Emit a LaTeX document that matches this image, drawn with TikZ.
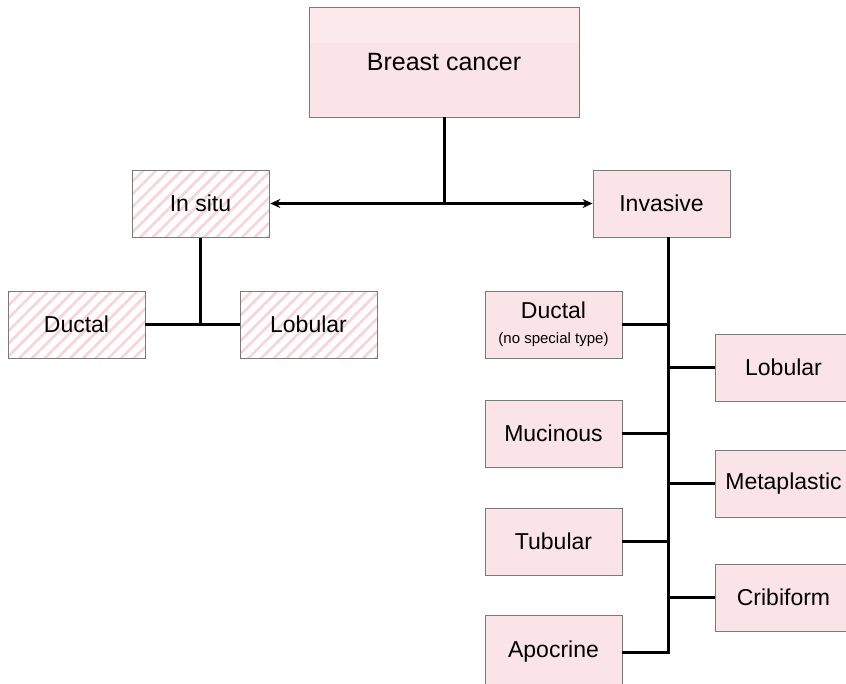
\documentclass[tikz,border=0pt]{standalone}
\usepackage{fontspec}
\setmainfont{Liberation Sans}
\usetikzlibrary{arrows.meta,patterns.meta}

\definecolor{boxfill}{HTML}{FBE4E8}
\definecolor{boxtop}{HTML}{FCE9EC}
\definecolor{boxline}{HTML}{7A7A7A}
\definecolor{hatch}{HTML}{F8D3DA}

\tikzset{
  box/.style={draw=boxline, line width=0.9pt, fill=boxfill,
    minimum width=137pt, minimum height=67pt, inner sep=0pt,
    font=\fontsize{23}{27}\selectfont, align=center},
  hatchbox/.style={box, fill=none, preaction={fill=white},
    pattern={Lines[angle=45,distance=9pt,line width=2.6pt]},
    pattern color=hatch},
  link/.style={line width=3pt, black},
  tip/.style={-{Stealth[length=10pt,width=9pt]}},
}

\begin{document}
\begin{tikzpicture}[x=1pt,y=-1pt]
  \useasboundingbox (0,0) rectangle (846,683);
  \clip (0,0) rectangle (846,683);

  % root
  \node[box, minimum width=270pt, minimum height=110pt,
        font=\fontsize{25}{29}\selectfont,
        path picture={\fill[boxtop] (path picture bounding box.north west)
          rectangle ([yshift=-36pt]path picture bounding box.north east);}]
        (bc) at (444,62) {Breast cancer};

  % first level
  \node[hatchbox] (insitu) at (200.5,203.5) {In situ};
  \node[box] (invasive) at (661.5,203.5) {Invasive};

  % in situ subtypes
  \node[hatchbox] (isduct) at (76.5,324.5) {Ductal};
  \node[hatchbox] (islob) at (308.5,324.5) {Lobular};

  % invasive subtypes, left column
  \node[box] (duct) at (553.5,324.5)
    {Ductal\\[-2pt]{\fontsize{15}{17}\selectfont (no special type)}};
  \node[box] (muc) at (553.5,433.5) {Mucinous};
  \node[box] (tub) at (553.5,541.5) {Tubular};
  \node[box, minimum height=74pt] (apo) at (553.5,652) {Apocrine};

  % invasive subtypes, right column
  \node[box] (lob) at (783.5,367.5) {Lobular};
  \node[box] (meta) at (783.5,483.5) {Metaplastic};
  \node[box] (crib) at (783.5,597.5) {Cribiform};

  % root split
  \coordinate (split) at (bc.south |- insitu.east);
  \draw[link] (bc.south) -- (split);
  \draw[link, tip] (split) -- (insitu.east);
  \draw[link, tip] (split) -- (invasive.west);

  % in situ branch
  \coordinate (isj) at (insitu.south |- isduct.east);
  \draw[link] (insitu.south) -- (isj);
  \draw[link] (isduct.east) -- (islob.west);

  % invasive spine
  \coordinate (spine) at ([xshift=6.5pt]invasive.south);
  \draw[link] (spine) |- (apo.east);
  \foreach \n in {duct,muc,tub}
    \draw[link] (\n.east) -- (\n.east -| spine);
  \foreach \n in {lob,meta,crib}
    \draw[link] (\n.west) -- (\n.west -| spine);
\end{tikzpicture}
\end{document}
